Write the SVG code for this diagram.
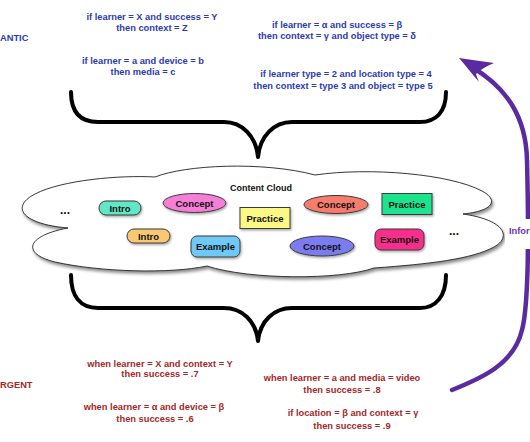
<svg xmlns="http://www.w3.org/2000/svg" width="530" height="442" viewBox="0 0 530 442">
<defs>
<filter id="sh" x="-10%" y="-20%" width="130%" height="150%">
<feDropShadow dx="1.5" dy="2.5" stdDeviation="1.5" flood-color="#000" flood-opacity="0.45"/>
</filter>
<filter id="nsh" x="-20%" y="-30%" width="150%" height="170%">
<feDropShadow dx="1" dy="1.5" stdDeviation="0.8" flood-color="#000" flood-opacity="0.35"/>
</filter>
</defs>
<style>
.b{font-family:"Liberation Sans",Arial,sans-serif;font-weight:bold;font-size:9.3px;text-anchor:middle;fill:#2d3bb0}
.r{font-family:"Liberation Sans",Arial,sans-serif;font-weight:bold;font-size:9.3px;text-anchor:middle;fill:#a32828}
.n{font-family:"Liberation Sans",Arial,sans-serif;font-weight:bold;font-size:9.5px;text-anchor:middle;fill:#111}
.nd{stroke:#3a3a3a;stroke-width:1;filter:url(#nsh)}
.brace{fill:none;stroke:#000;stroke-width:4;stroke-linecap:round;stroke-linejoin:round}
</style>
<rect width="530" height="442" fill="#fff"/>

<g id="semantic-rules">
<text x="0" y="41" class="b" style="text-anchor:start">ANTIC</text>
<text x="152" y="20" class="b">if learner = X and success = Y</text>
<text x="152" y="31" class="b">then context = Z</text>
<text x="143" y="63.5" class="b">if learner = a and device = b</text>
<text x="143" y="74.5" class="b">then media = c</text>
<text x="337" y="27.5" class="b">if learner = α and success = β</text>
<text x="337" y="38.5" class="b">then context = γ and object type = δ</text>
<text x="346" y="76.5" class="b">if learner type = 2 and location type = 4</text>
<text x="343" y="88.5" class="b">then context = type 3 and object = type 5</text>
</g>

<g id="emergent-rules">
<text x="0" y="387.5" class="r" style="text-anchor:start">RGENT</text>
<text x="160" y="366.5" class="r">when learner = X and context = Y</text>
<text x="160" y="377" class="r">then success = .7</text>
<text x="154" y="409.5" class="r">when learner = α and device = β</text>
<text x="155" y="421.5" class="r">then success = .6</text>
<text x="342" y="380.5" class="r">when learner = a and media = video</text>
<text x="342" y="392.5" class="r">then success = .8</text>
<text x="353" y="415.5" class="r">if location = β and context = γ</text>
<text x="352" y="429" class="r">then success = .9</text>
</g>

<g id="connectors">
<path class="brace" d="M71,92 C71,112 80,122 98,122 L224,122 C242,122 256,136 258,157 C260,136 274,122 292,122 L420,122 C436,122 446,112 446,92"/>
<path class="brace" d="M71,275 C71,296 80,308 98,308 L224,308 C242,308 256,321 258,341 C260,321 274,308 292,308 L420,308 C436,308 446,296 446,275"/>
<path d="M452,390 C482,378 514,364 522,330 C530,300 528,200 527,160 C526,118 508,88 470,66" fill="none" stroke="#5a2aa0" stroke-width="4.5" stroke-linecap="round"/>
<path d="M459,58 C470,60 482,61 494,63 C486,66 480,70 476,74 C477,77 478,80 479,82 C472,74 466,66 459,58 Z" fill="#5a2aa0"/>
</g>

<g id="cloud">
<path d="M68,228 C22,224 10,207 35,194 C62,180 120,175 155,177 C185,165 262,161 315,175 C370,167 450,174 482,191 C500,201 492,211 463,214 C505,220 512,237 494,247 C472,259 430,264 374,268 C340,280 250,280 207,266 C170,274 100,272 55,262 C22,254 25,236 68,228 Z" fill="#fff" stroke="#222" stroke-width="0.9" filter="url(#sh)"/>
<text x="261" y="191" class="n" style="font-size:9px">Content Cloud</text>
<text x="65" y="214" class="n" style="font-size:12px">...</text>
<text x="454" y="235" class="n" style="font-size:12px">...</text>
</g>

<g id="intro1"><rect x="99" y="201" width="42" height="14" rx="7" fill="#5fe7c6" class="nd"/><text x="120" y="211.5" class="n">Intro</text></g>
<g id="concept1"><ellipse cx="194.5" cy="203" rx="31.5" ry="9.5" fill="#f57fd7" class="nd"/><text x="194.5" y="206.5" class="n">Concept</text></g>
<g id="practice1"><rect x="240" y="207.5" width="50" height="21" fill="#fbf884" class="nd"/><text x="265" y="221.5" class="n">Practice</text></g>
<g id="intro2"><rect x="127" y="229" width="43" height="14" rx="7" fill="#fac873" class="nd"/><text x="148.5" y="239.5" class="n">Intro</text></g>
<g id="example1"><rect x="191" y="236" width="49" height="21" rx="6" fill="#6ec9f6" class="nd"/><text x="215.5" y="250" class="n">Example</text></g>
<g id="concept2"><ellipse cx="336" cy="204.5" rx="32" ry="9" fill="#f67b6d" class="nd"/><text x="336" y="208" class="n">Concept</text></g>
<g id="practice2"><rect x="382" y="193.5" width="50" height="21" fill="#1fe48e" class="nd"/><text x="407" y="207.5" class="n">Practice</text></g>
<g id="concept3"><ellipse cx="322" cy="246" rx="32" ry="10" fill="#7c7cf0" class="nd"/><text x="322" y="249.5" class="n">Concept</text></g>
<g id="example2"><rect x="375" y="229" width="49" height="21" rx="6" fill="#f72d8c" class="nd"/><text x="399.5" y="243" class="n">Example</text></g>

<g id="info-label">
<rect x="505" y="219" width="25" height="30" fill="#fff"/>
<text x="509" y="233.5" class="b" style="text-anchor:start;fill:#6a34b0">Infor</text>
</g>
</svg>
